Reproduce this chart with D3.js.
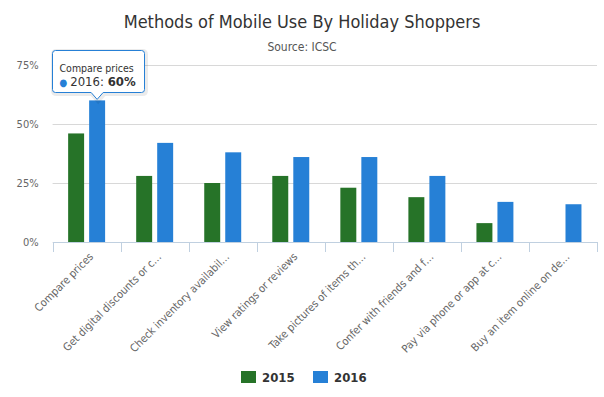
<!DOCTYPE html>
<html>
<head>
<meta charset="utf-8">
<script src="https://cdn.jsdelivr.net/npm/d3@7"></script>
<style>
  body { margin: 0; background: #fff; }
  svg { display: block; font-family: "DejaVu Sans Condensed", "DejaVu Sans", sans-serif; }
</style>
</head>
<body>
<div id="chart"></div>
<script>
// Chart data
const categories = [
    'Compare prices',
    'Get digital discounts or c…',
    'Check inventory availabil…',
    'View ratings or reviews',
    'Take pictures of items th…',
    'Confer with friends and f…',
    'Pay via phone or app at c…',
    'Buy an item online on de…'
];
const seriesNames = ['2015', '2016'];
const values2015 = [46, 28, 25, 28, 23, 19, 8, null];
const values2016 = [60, 42, 38, 36, 36, 28, 17, 16];
const yTicks = [0, 25, 50, 75];
const colors = ['#267328', '#2680d6'];

function drawChart() {
    const width = 604;
    const height = 397;
    const margin = { top: 65, right: 7, bottom: 155, left: 52.6 };

    const svg = d3.select('#chart')
        .append('svg')
        .attr('width', width)
        .attr('height', height);

    const x0 = d3.scaleBand()
        .domain(categories)
        .range([margin.left, width - margin.right])
        .padding(0);

    const x1 = d3.scaleBand()
        .domain(seriesNames)
        .range([0, x0.bandwidth()])
        .paddingInner(0.24)
        .paddingOuter(0.74);

    const y = d3.scaleLinear()
        .domain([0, 75])
        .range([height - margin.bottom, margin.top]);

    // Title
    svg.append('text')
        .attr('x', width / 2)
        .attr('y', 28)
        .attr('text-anchor', 'middle')
        .attr('font-size', '18px')
        .attr('fill', '#333')
        .text('Methods of Mobile Use By Holiday Shoppers');

    svg.append('text')
        .attr('x', width / 2)
        .attr('y', 51)
        .attr('text-anchor', 'middle')
        .attr('font-size', '12px')
        .attr('fill', '#555')
        .text('Source: ICSC');

    // Grid lines and y labels
    const yAxis = svg.append('g')
        .attr('transform', `translate(${margin.left},0)`)
        .call(d3.axisLeft(y).tickValues(yTicks).tickFormat(d => d + '%')
            .tickSize(-(width - margin.left - margin.right)).tickPadding(14));
    yAxis.select('.domain').remove();
    yAxis.selectAll('.tick line').attr('stroke', '#d8d8d8');
    yAxis.selectAll('.tick text')
        .attr('fill', '#666')
        .attr('font-size', '11px')
        .attr('font-family', '"DejaVu Sans Condensed", "DejaVu Sans", sans-serif');

    // Bars
    const groups = svg.append('g')
        .selectAll('g')
        .data(categories)
        .enter().append('g')
        .attr('transform', d => `translate(${x0(d)},0)`);

    groups.selectAll('rect')
        .data((d, i) => [
            { key: '2015', value: values2015[i] },
            { key: '2016', value: values2016[i] }
        ].filter(v => v.value != null))
        .enter().append('rect')
        .attr('x', d => x1(d.key))
        .attr('y', d => y(d.value))
        .attr('width', x1.bandwidth())
        .attr('height', d => y(0) - y(d.value))
        .attr('fill', d => colors[seriesNames.indexOf(d.key)]);

    // X axis
    const xAxis = svg.append('g')
        .attr('transform', `translate(0,${y(0)})`)
        .call(d3.axisBottom(x0).tickSize(0).tickPadding(8));
    xAxis.select('.domain').attr('stroke', '#c0d0e0');
    xAxis.selectAll('.tick text')
        .attr('fill', '#666')
        .attr('font-size', '11px')
        .attr('font-family', '"DejaVu Sans Condensed", "DejaVu Sans", sans-serif')
        .attr('text-anchor', 'end')
        .attr('dy', '0.35em')
        .attr('transform', 'translate(-1,7) rotate(-45)');

    // Tick marks at band edges
    const edges = categories.map(c => x0(c)).concat([x0.range()[1]]);
    svg.append('g')
        .selectAll('line')
        .data(edges)
        .enter().append('line')
        .attr('x1', d => Math.round(d) + 0.5)
        .attr('x2', d => Math.round(d) + 0.5)
        .attr('y1', y(0))
        .attr('y2', y(0) + 10)
        .attr('stroke', '#c0d0e0');

    // Legend
    const legend = svg.append('g').attr('transform', 'translate(241,371)');
    const items = legend.selectAll('g')
        .data(seriesNames)
        .enter().append('g')
        .attr('transform', (d, i) => `translate(${i * 72},0)`);
    items.append('rect')
        .attr('width', 15)
        .attr('height', 12)
        .attr('fill', (d, i) => colors[i]);
    items.append('text')
        .attr('x', 21)
        .attr('y', 11)
        .attr('font-size', '13px')
        .attr('font-weight', 'bold')
        .attr('fill', '#333')
        .text(d => d);

    // Tooltip on the first 2016 bar
    const tipX = x0(categories[0]) + x1('2016') + x1.bandwidth() / 2;
    const tipY = y(values2016[0]);
    const tip = svg.append('g');
    const bx = 52.5, by = 50.5, bw = 92, bh = 42;
    const path = `M${bx + 3},${by} H${bx + bw - 3} Q${bx + bw},${by} ${bx + bw},${by + 3} V${by + bh - 3}` +
        ` Q${bx + bw},${by + bh} ${bx + bw - 3},${by + bh} H${tipX + 6} L${tipX},${tipY - 1} L${tipX - 6},${by + bh}` +
        ` H${bx + 3} Q${bx},${by + bh} ${bx},${by + bh - 3} V${by + 3} Q${bx},${by} ${bx + 3},${by} Z`;
    tip.append('path')
        .attr('d', path)
        .attr('fill', 'none')
        .attr('stroke', 'rgba(0,0,0,0.08)')
        .attr('stroke-width', 5)
        .attr('transform', 'translate(1,1)');
    tip.append('path')
        .attr('d', path)
        .attr('fill', 'rgba(255,255,255,0.96)')
        .attr('stroke', colors[1])
        .attr('stroke-width', 1);
    tip.append('text')
        .attr('x', bx + 7)
        .attr('y', by + 21)
        .attr('font-size', '10.5px')
        .attr('fill', '#333')
        .text(categories[0]);
    const line2 = tip.append('text')
        .attr('x', bx + 7)
        .attr('y', by + 35)
        .attr('font-size', '13px')
        .attr('fill', '#333');
    line2.append('tspan').attr('fill', colors[1]).attr('font-size', '10px').text('● ');
    line2.append('tspan').text('2016: ');
    line2.append('tspan').attr('font-weight', 'bold').text(values2016[0] + '%');
}

drawChart();
</script>
</body>
</html>
